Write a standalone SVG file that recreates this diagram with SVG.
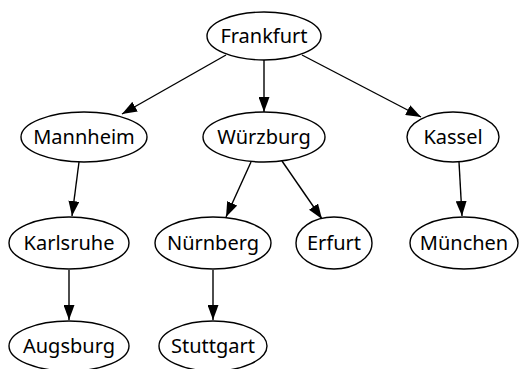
<svg xmlns="http://www.w3.org/2000/svg" width="519" height="369" viewBox="0 0 519 369">
<style>
.n ellipse{fill:#fff;stroke:#000;stroke-width:1.4}
.n text{font-family:"Noto Sans","Open Sans",sans-serif;font-size:20px;fill:#000;text-anchor:middle;dominant-baseline:central}
.e line{stroke:#000;stroke-width:1.4}
</style>
<defs>
<marker id="b" viewBox="0 0 15 11" refX="15" refY="5.5" markerWidth="15" markerHeight="11" markerUnits="userSpaceOnUse" orient="auto"><path d="M0,0 L15,5.5 L0,11 Z" fill="#000"/></marker>
</defs>
<g class="e">
<line x1="226" y1="55" x2="122" y2="114" marker-end="url(#b)"/>
<line x1="264" y1="60" x2="264" y2="112" marker-end="url(#b)"/>
<line x1="302" y1="55" x2="421" y2="117" marker-end="url(#b)"/>
<line x1="79" y1="162" x2="72" y2="216" marker-end="url(#b)"/>
<line x1="251" y1="162" x2="226" y2="217" marker-end="url(#b)"/>
<line x1="282" y1="161" x2="322" y2="219" marker-end="url(#b)"/>
<line x1="459" y1="162" x2="462" y2="216" marker-end="url(#b)"/>
<line x1="69" y1="270" x2="69" y2="320" marker-end="url(#b)"/>
<line x1="213" y1="270" x2="213" y2="320" marker-end="url(#b)"/>
</g>
<g id="frankfurt" class="n"><ellipse cx="264" cy="36" rx="57" ry="24"/><text x="264" y="35">Frankfurt</text></g>
<g id="mannheim" class="n"><ellipse cx="84" cy="137" rx="63" ry="25"/><text x="84" y="136">Mannheim</text></g>
<g id="wuerzburg" class="n"><ellipse cx="264" cy="137" rx="61" ry="25"/><text x="264" y="136">Würzburg</text></g>
<g id="kassel" class="n"><ellipse cx="453" cy="137" rx="46" ry="25"/><text x="453" y="136">Kassel</text></g>
<g id="karlsruhe" class="n"><ellipse cx="69" cy="243" rx="60" ry="26"/><text x="69" y="242">Karlsruhe</text></g>
<g id="nuernberg" class="n"><ellipse cx="213" cy="243" rx="58" ry="26"/><text x="213" y="242">Nürnberg</text></g>
<g id="erfurt" class="n"><ellipse cx="334" cy="243" rx="38" ry="26"/><text x="334" y="242">Erfurt</text></g>
<g id="muenchen" class="n"><ellipse cx="464" cy="243" rx="54" ry="26"/><text x="464" y="242">München</text></g>
<g id="augsburg" class="n"><ellipse cx="69" cy="346" rx="60" ry="25"/><text x="69" y="345">Augsburg</text></g>
<g id="stuttgart" class="n"><ellipse cx="213" cy="346" rx="54" ry="25"/><text x="213" y="345">Stuttgart</text></g>
</svg>
